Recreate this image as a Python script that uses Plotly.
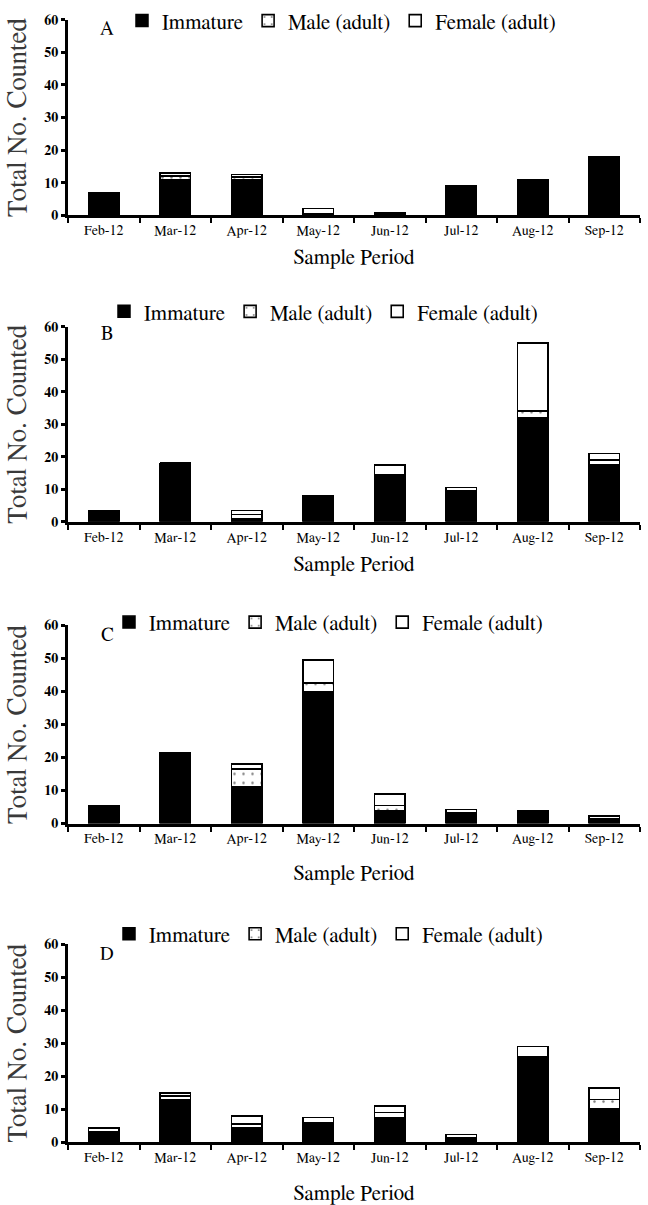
import plotly.graph_objects as go

W, H = 648, 1205

months = ["Feb-12", "Mar-12", "Apr-12", "May-12", "Jun-12", "Jul-12", "Aug-12", "Sep-12"]
panel_labels = ["A", "B", "C", "D"]
y_ticks = [0, 10, 20, 30, 40, 50, 60]

# Panel A
immature_A = [7, 11, 11, 0, 0.8, 9, 11, 18]
male_A = [0, 1, 0.8, 0.5, 0, 0, 0, 0]
female_A = [0, 1, 0.7, 1.5, 0, 0, 0, 0]
# Panel B
immature_B = [3.5, 18, 1, 8, 14.5, 9.2, 32, 17.5]
male_B = [0, 0, 1.2, 0, 0, 0.3, 2, 1.5]
female_B = [0, 0, 1.3, 0, 3, 1.0, 21, 2]
# Panel C
immature_C = [5.5, 21.5, 11, 40, 4, 3, 4, 1]
male_C = [0, 0, 5.5, 2.5, 1.5, 0.3, 0, 0.3]
female_C = [0, 0, 1.5, 7, 3.5, 1.0, 0, 1.0]
# Panel D
immature_D = [3, 13, 4.5, 5.5, 7.5, 1, 26, 10]
male_D = [0.3, 1, 1, 0.5, 1.5, 0.3, 0, 3]
female_D = [1.0, 1, 2.5, 1.5, 2, 1.0, 3, 3.5]

panels = [
    (immature_A, male_A, female_A),
    (immature_B, male_B, female_B),
    (immature_C, male_C, female_C),
    (immature_D, male_D, female_D),
]

# layout geometry (pixels)
x_left, x_right = 68, 640
plot_tops = [15, 323, 623, 943]
plot_bottoms = [211, 519, 822, 1142]
legend_y = [16, 308, 620, 933]
legend_x = [122, 104, 109, 109]
title_standoff = [12, 12, 19, 22]
letter_y = [24, 330, 633, 953]

SERIF = "FreeSerif"

fig = go.Figure()

for i, (imm, male, fem) in enumerate(panels):
    n = "" if i == 0 else str(i + 1)
    xa, ya, lg = "x" + n, "y" + n, "legend" + n
    fig.add_trace(go.Bar(
        x=months, y=imm, name="Immature", xaxis=xa, yaxis=ya, legend=lg,
        marker=dict(color="black", line=dict(color="black", width=1.5)),
    ))
    fig.add_trace(go.Bar(
        x=months, y=male, name="Male (adult)", xaxis=xa, yaxis=ya, legend=lg,
        marker=dict(color="white", line=dict(color="black", width=1.6),
                    pattern=dict(shape=".", fgcolor="black", bgcolor="white",
                                 size=9, solidity=0.06)),
    ))
    fig.add_trace(go.Bar(
        x=months, y=fem, name="Female (adult)", xaxis=xa, yaxis=ya, legend=lg,
        marker=dict(color="white", line=dict(color="black", width=1.6)),
    ))

layout = dict(
    width=W, height=H,
    margin=dict(l=0, r=0, t=0, b=0),
    paper_bgcolor="white", plot_bgcolor="white",
    barmode="stack", bargap=0.57,
    font=dict(family=SERIF, color="black"),
    annotations=[],
)

for i in range(4):
    n = "" if i == 0 else str(i + 1)
    top, bot = plot_tops[i], plot_bottoms[i]
    layout["xaxis" + n] = dict(
        domain=[x_left / W, x_right / W], anchor="y" + n,
        type="category", categoryorder="array", categoryarray=months,
        range=[-0.5, 7.5],
        showline=True, linewidth=3, linecolor="black",
        ticks="outside", ticklen=5, tickwidth=2, tickcolor="black",
        tickson="boundaries",
        tickfont=dict(family=SERIF, size=14, color="black"),
        showgrid=False, zeroline=False, automargin=False,
        title=dict(text="Sample Period", font=dict(family=SERIF, size=21, color="black"),
                   standoff=title_standoff[i]),
    )
    layout["yaxis" + n] = dict(
        domain=[1 - bot / H, 1 - top / H], anchor="x" + n,
        range=[0, 60], tickvals=y_ticks,
        showline=True, linewidth=3, linecolor="black",
        ticks="outside", ticklen=4, tickwidth=3, tickcolor="black",
        tickfont=dict(family=SERIF, size=14, color="black", weight="bold"),
        showgrid=False, zeroline=False, automargin=False,
        title=dict(text="Total No. Counted", font=dict(family=SERIF, size=27, color="#3a3a3a"),
                   standoff=10),
    )
    layout["legend" + n] = dict(
        x=legend_x[i] / W, y=1 - legend_y[i] / H, xanchor="left", yanchor="middle",
        orientation="h", bgcolor="rgba(0,0,0,0)", itemwidth=30,
        font=dict(family=SERIF, size=21, color="black"),
        traceorder="normal",
    )
    layout["annotations"].append(dict(
        text=panel_labels[i], x=107 / W, y=1 - letter_y[i] / H,
        xref="paper", yref="paper", xanchor="center", yanchor="middle",
        showarrow=False,
        font=dict(family=SERIF, size=19, color="black"),
    ))

fig.update_layout(**layout)
fig.write_html("out.html")
